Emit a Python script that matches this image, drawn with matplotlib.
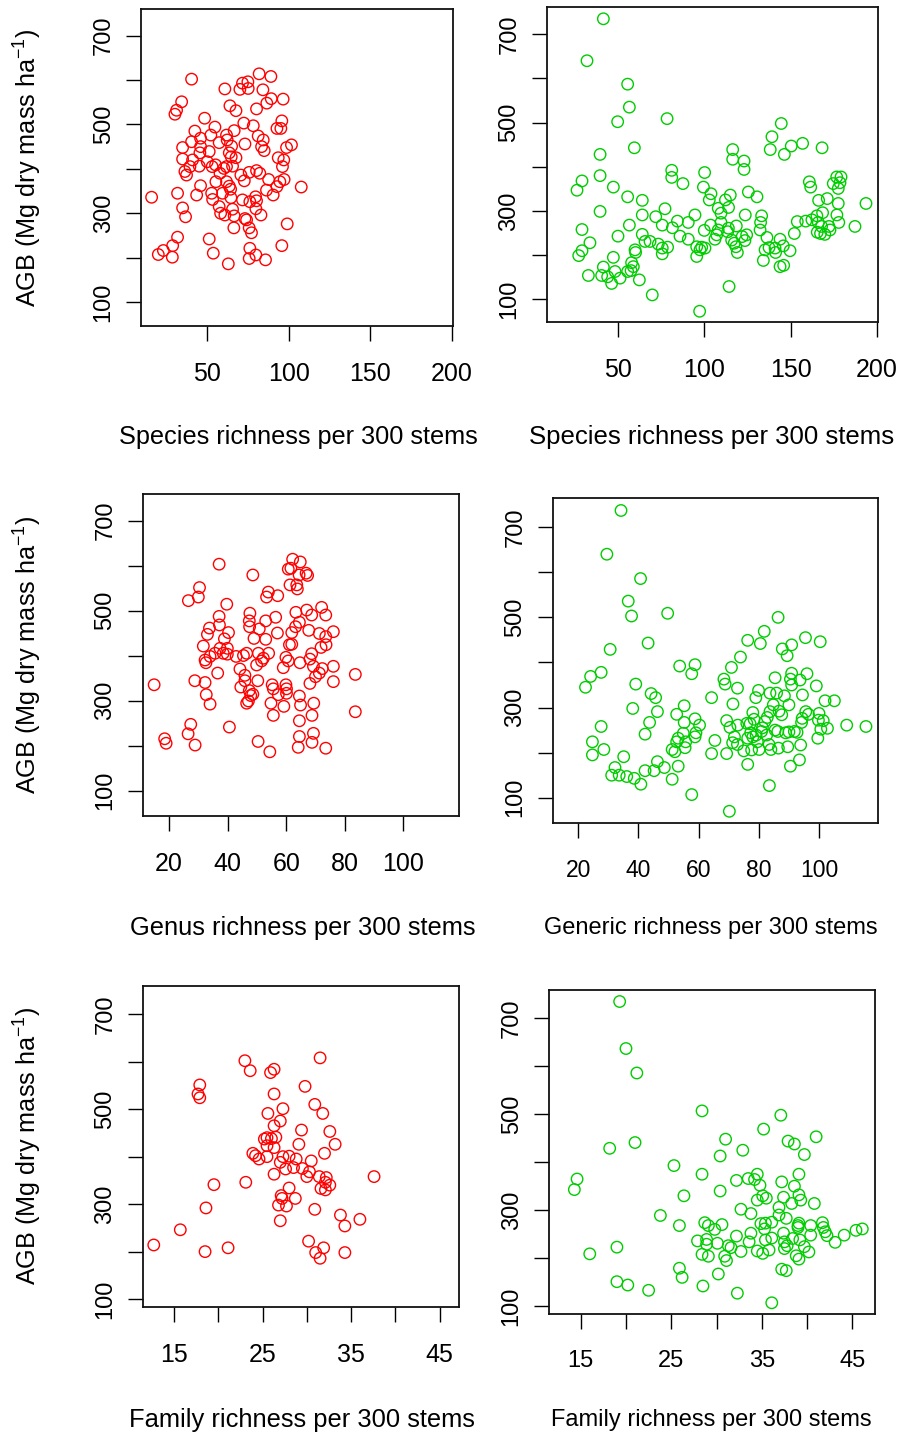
import numpy as np
import matplotlib
matplotlib.use('Agg')
import matplotlib.pyplot as plt

'''
AGB against species / genus / family richness per 300 stems,
red = left column, green = right column (3 x 2 panels)
'''

plt.rcParams['font.family'] = ['Liberation Sans', 'DejaVu Sans']
plt.rcParams['mathtext.fontset'] = 'custom'
plt.rcParams['mathtext.rm'] = 'Liberation Sans'
plt.rcParams['mathtext.it'] = 'Liberation Sans:italic'

#--- data ---
# species richness, red
sp_red_x = [40.4, 81.8, 89.0, 71.6, 74.9, 60.8, 70.0, 75.1, 84.1, 34.3,
            31.2, 30.2, 63.9, 67.6, 80.2, 89.2, 86.5, 96.5, 48.4, 54.7,
            72.4, 78.2, 95.7, 92.7, 95.1, 42.4, 40.4, 34.9, 45.9, 45.9,
            51.2, 52.2, 57.3, 61.8, 62.2, 66.5, 64.9, 73.1, 81.2, 84.3,
            83.3, 84.9, 98.6, 101.6, 34.9, 41.0, 45.5, 39.4, 45.1, 50.0,
            53.0, 55.1, 63.5, 64.7, 67.6, 65.5, 60.2, 61.8, 57.8, 36.3,
            37.3, 93.5, 96.9, 96.1, 70.6, 72.7, 75.7, 80.2, 82.2, 87.6,
            94.5, 97.1, 92.7, 107.6, 55.3, 61.8, 63.5, 64.3, 45.9, 31.8,
            43.5, 15.9, 52.7, 53.3, 59.4, 64.5, 71.6, 76.1, 79.6, 80.2,
            86.3, 90.4, 34.9, 36.7, 57.3, 58.2, 60.8, 65.5, 66.5, 79.8,
            82.9, 73.1, 74.1, 66.3, 75.7, 77.1, 99.0, 31.8, 28.8, 23.1,
            20.0, 28.6, 51.2, 53.7, 62.9, 76.1, 75.7, 79.8, 85.7, 95.7]
sp_red_y = [602, 614, 608, 593, 596, 580, 579, 581, 578, 551,
            532, 523, 542, 531, 535, 558, 548, 557, 514, 494,
            503, 497, 508, 491, 491, 485, 461, 448, 469, 450,
            439, 476, 459, 476, 465, 486, 451, 456, 474, 465,
            450, 441, 448, 454, 422, 420, 436, 405, 406, 416,
            405, 409, 436, 427, 425, 406, 401, 405, 390, 394,
            386, 425, 420, 405, 386, 373, 392, 396, 390, 376,
            371, 376, 360, 359, 371, 371, 361, 354, 362, 345,
            341, 336, 345, 331, 345, 335, 330, 326, 337, 328,
            352, 341, 312, 292, 315, 300, 296, 309, 294, 310,
            296, 288, 285, 267, 267, 256, 276, 246, 227, 216,
            207, 201, 242, 210, 186, 221, 198, 206, 195, 227]

# species richness, green
sp_grn_x = [41.3, 31.8, 55.4, 56.4, 49.6, 78.3, 59.3, 39.4, 39.4, 28.9,
            26.0, 47.1, 55.4, 63.9, 39.4, 63.9, 71.7, 77.1, 81.0, 81.0,
            87.5, 100.1, 99.4, 103.8, 102.8, 116.4, 116.4, 123.0, 123.0, 125.5,
            130.5, 115.0, 112.2, 114.0, 108.0, 109.6, 123.7, 94.5, 84.3, 90.6,
            75.5, 81.4, 103.6, 99.9, 109.6, 113.9, 118.5, 113.5, 133.2, 132.6,
            132.3, 144.6, 139.2, 138.2, 146.4, 150.4, 157.0, 168.3, 160.9, 161.7,
            166.3, 171.3, 176.8, 179.3, 174.8, 178.7, 177.7, 177.7, 176.9, 178.0,
            193.8, 187.4, 168.6, 165.3, 162.4, 158.8, 153.9, 152.2, 166.1, 168.0,
            165.5, 167.4, 169.9, 172.9, 172.3, 28.9, 33.5, 28.9, 27.0, 47.1,
            41.3, 40.3, 32.6, 43.8, 46.1, 48.1, 51.0, 57.7, 57.4, 58.7,
            59.7, 60.0, 55.4, 62.2, 49.8, 56.4, 63.9, 65.5, 68.4, 69.7,
            73.2, 75.5, 75.5, 78.6, 85.8, 90.6, 95.5, 95.5, 97.4, 98.4,
            100.3, 97.2, 114.3, 106.1, 107.1, 108.0, 115.8, 117.3, 119.1, 118.3,
            124.5, 123.5, 121.9, 136.3, 134.2, 135.2, 137.5, 141.0, 141.3, 143.9,
            145.8, 149.7, 143.9, 146.0]
sp_grn_y = [735, 640, 587, 535, 502, 509, 443, 428, 380, 368,
            347, 354, 332, 324, 299, 291, 287, 305, 392, 376,
            362, 387, 354, 339, 325, 439, 417, 413, 394, 343,
            332, 336, 325, 308, 306, 295, 291, 291, 277, 274,
            268, 262, 268, 256, 274, 261, 266, 253, 289, 274,
            257, 498, 468, 439, 428, 447, 453, 443, 366, 354,
            324, 328, 377, 377, 362, 364, 351, 317, 291, 274,
            317, 265, 296, 289, 280, 277, 276, 249, 274, 265,
            252, 249, 247, 257, 265, 258, 228, 210, 199, 195,
            173, 154, 154, 151, 136, 163, 148, 183, 165, 174,
            212, 206, 163, 144, 243, 268, 247, 231, 231, 110,
            225, 216, 203, 218, 243, 236, 219, 197, 212, 218,
            216, 73, 129, 236, 246, 257, 234, 227, 206, 219,
            246, 233, 242, 240, 188, 212, 217, 216, 206, 236,
            221, 210, 174, 177]

# genus richness, red
gen_red_x = [62.2, 64.8, 37.1, 60.7, 61.6, 48.6, 64.4, 66.8, 67.3, 61.3,
             63.6, 63.8, 30.4, 30.0, 26.6, 39.7, 53.9, 53.3, 57.1, 63.3,
             47.6, 67.0, 68.7, 72.1, 73.5, 37.1, 33.8, 37.2, 40.3, 33.1,
             47.4, 47.5, 50.8, 53.0, 56.4, 57.0, 49.0, 53.0, 61.9, 63.2,
             64.5, 67.7, 71.3, 73.5, 76.1, 71.9, 73.6, 61.1, 61.9, 31.7,
             38.9, 37.4, 39.9, 38.5, 39.9, 35.7, 34.0, 32.3, 32.6, 42.9,
             45.4, 46.5, 50.5, 54.0, 52.2, 51.6, 49.9, 59.9, 60.7, 59.0,
             64.7, 68.1, 68.7, 69.3, 72.3, 71.3, 70.0, 76.1, 76.1, 68.1,
             83.6, 83.6, 36.6, 44.2, 45.9, 45.9, 50.3, 44.5, 28.8, 32.3,
             14.9, 32.7, 34.0, 47.4, 48.6, 47.9, 47.1, 46.5, 55.2, 55.6,
             57.3, 54.8, 59.9, 60.1, 60.1, 59.2, 55.6, 64.5, 64.9, 69.4,
             68.8, 64.5, 64.5, 64.1, 69.3, 68.8, 73.5, 40.6, 27.4, 26.5,
             18.5, 19.0, 28.9, 50.4, 54.4]
gen_red_y = [614, 608, 603, 592, 594, 579, 579, 583, 578, 557,
             557, 548, 551, 530, 522, 514, 541, 530, 533, 496,
             494, 501, 490, 507, 490, 487, 461, 468, 451, 447,
             477, 464, 459, 477, 485, 450, 438, 436, 451, 464,
             474, 456, 449, 442, 453, 418, 424, 424, 425, 421,
             437, 416, 416, 405, 403, 405, 398, 390, 384, 398,
             400, 405, 405, 405, 394, 388, 379, 396, 388, 373,
             384, 392, 404, 376, 371, 361, 353, 376, 342, 338,
             358, 275, 361, 370, 356, 344, 344, 330, 344, 340,
             335, 313, 292, 322, 314, 311, 299, 294, 335, 326,
             313, 294, 335, 326, 316, 287, 267, 310, 290, 294,
             267, 255, 220, 196, 227, 207, 194, 241, 247, 226,
             215, 205, 201, 209, 186]

# generic richness, green
gen_grn_x = [34.2, 29.5, 40.7, 36.6, 37.7, 49.7, 30.6, 43.2, 86.4, 81.8,
             76.3, 80.5, 87.8, 90.9, 89.4, 95.5, 100.4, 73.9, 70.9, 53.7,
             58.8, 57.7, 27.6, 24.1, 22.4, 39.1, 44.2, 45.7, 38.1, 46.3,
             43.7, 42.2, 27.6, 24.7, 24.7, 28.5, 35.1, 32.2, 31.1, 33.6,
             36.1, 38.6, 40.8, 42.2, 45.2, 46.3, 48.6, 51.2, 53.2, 57.7,
             52.7, 55.2, 55.2, 58.8, 60.3, 59.1, 58.8, 54.9, 53.2, 52.7,
             55.7, 55.5, 51.2, 52.1, 64.3, 71.4, 68.4, 68.8, 72.9, 65.4,
             64.3, 69.3, 69.3, 70.4, 73.0, 71.9, 71.3, 72.9, 75.0, 76.3,
             76.3, 77.1, 78.4, 78.0, 79.0, 79.9, 77.3, 78.0, 79.1, 77.6,
             80.1, 79.5, 80.9, 82.0, 82.8, 83.7, 85.9, 84.8, 85.4, 88.5,
             90.0, 86.7, 87.6, 83.7, 82.6, 83.4, 84.0, 86.3, 86.5, 89.6,
             88.9, 90.0, 91.8, 92.7, 85.4, 83.5, 90.5, 93.5, 93.9, 94.2,
             94.4, 94.5, 95.6, 96.5, 90.5, 90.9, 90.9, 93.7, 96.0, 99.1,
             102.0, 105.1, 100.0, 99.8, 101.4, 100.6, 102.8, 99.6, 109.2, 115.6,
             70.2, 76.0, 81.2]
gen_grn_y = [737, 640, 586, 536, 503, 509, 429, 443, 500, 469,
             449, 442, 430, 439, 415, 455, 446, 412, 389, 392,
             395, 375, 378, 369, 345, 352, 331, 322, 298, 291,
             267, 241, 258, 224, 195, 207, 191, 167, 150, 150,
             147, 143, 130, 160, 160, 180, 167, 141, 170, 107,
             285, 304, 267, 275, 261, 244, 235, 243, 232, 224,
             224, 211, 207, 202, 322, 308, 363, 352, 343, 227,
             198, 198, 271, 256, 261, 235, 222, 218, 204, 174,
             232, 264, 274, 289, 322, 338, 244, 235, 239, 206,
             207, 224, 247, 269, 278, 332, 332, 306, 366, 326,
             306, 292, 284, 291, 239, 218, 207, 247, 210, 213,
             244, 246, 247, 245, 250, 127, 170, 184, 217, 267,
             276, 328, 291, 285, 363, 376, 350, 361, 375, 348,
             315, 315, 287, 272, 271, 252, 254, 232, 261, 258,
             70, 265, 255]

# family richness, red
fam_red_x = [31.5, 23.0, 23.6, 25.9, 26.3, 17.9, 17.7, 17.9, 29.8, 26.3,
             30.9, 31.8, 27.3, 25.6, 27.0, 26.3, 29.4, 32.6, 29.1, 33.2,
             32.0, 25.2, 25.5, 26.0, 26.5, 25.5, 26.3, 25.5, 23.9, 24.2,
             24.6, 27.3, 28.0, 28.8, 27.0, 27.6, 28.5, 26.3, 29.5, 30.5,
             30.3, 30.0, 31.4, 32.2, 32.1, 32.6, 31.6, 32.1, 37.6, 23.1,
             19.5, 18.6, 28.0, 27.1, 27.2, 28.7, 26.8, 27.7, 27.0, 30.9,
             33.8, 34.3, 36.0, 15.7, 12.7, 18.5, 21.1, 30.2, 31.0, 31.9,
             31.5, 34.3]
fam_red_y = [608, 602, 581, 577, 584, 551, 532, 524, 548, 532,
             510, 491, 501, 491, 475, 465, 456, 453, 426, 426,
             407, 437, 440, 438, 441, 423, 419, 400, 407, 402,
             395, 400, 401, 395, 388, 374, 377, 363, 375, 391,
             368, 358, 358, 356, 346, 340, 333, 330, 358, 346,
             341, 292, 334, 318, 312, 312, 298, 296, 265, 289,
             277, 254, 268, 246, 214, 200, 208, 222, 198, 208,
             186, 198]

# family richness, green
fam_grn_x = [19.3, 20.0, 21.2, 28.4, 37.1, 35.2, 41.0, 37.9, 38.6, 39.7,
             31.0, 32.9, 30.4, 18.2, 21.0, 14.6, 14.3, 25.3, 28.4, 26.4,
             30.4, 32.2, 33.5, 34.2, 34.5, 34.8, 35.1, 35.5, 34.5, 37.2,
             39.1, 38.6, 37.4, 38.3, 39.1, 39.3, 40.8, 36.9, 36.9, 37.7,
             32.7, 33.8, 23.8, 25.9, 28.7, 29.1, 29.8, 30.6, 34.9, 35.4,
             36.1, 35.3, 33.8, 32.2, 27.9, 28.9, 28.9, 30.1, 31.3, 31.6,
             32.7, 33.6, 28.4, 29.1, 30.9, 31.1, 34.5, 35.1, 35.8, 35.4,
             36.1, 37.4, 37.5, 37.5, 37.8, 38.4, 39.0, 39.1, 39.0, 39.2,
             39.7, 38.8, 39.1, 40.2, 40.4, 40.4, 41.7, 41.8, 42.0, 42.2,
             43.1, 44.1, 45.4, 46.1, 37.2, 37.7, 36.1, 32.3, 30.2, 28.5,
             26.2, 25.9, 22.5, 20.2, 19.0, 19.0, 16.0]
fam_grn_y = [735, 637, 586, 507, 498, 469, 453, 444, 438, 416,
             448, 425, 413, 429, 441, 365, 343, 393, 375, 330,
             340, 362, 366, 364, 375, 352, 330, 325, 321, 359,
             375, 350, 327, 314, 332, 321, 314, 306, 290, 283,
             302, 293, 289, 268, 274, 268, 260, 270, 272, 273,
             275, 261, 252, 246, 236, 239, 229, 231, 226, 222,
             214, 234, 208, 204, 204, 195, 215, 210, 217, 238,
             242, 252, 234, 220, 226, 241, 268, 273, 264, 238,
             224, 205, 198, 213, 268, 248, 274, 264, 255, 247,
             233, 248, 258, 261, 177, 174, 107, 127, 167, 142,
             160, 179, 133, 144, 151, 223, 209]

xlabels = ['Species richness per 300 stems', 'Species richness per 300 stems',
           'Genus richness per 300 stems', 'Generic richness per 300 stems',
           'Family richness per 300 stems', 'Family richness per 300 stems']
ylabel = 'AGB (Mg dry mass ha$^{-1}$)'

RED = '#FF0000'
GREEN = '#00CD00'

#--- figure / layout in pixels (902 x 1434) ---
W, H = 902, 1434
fig = plt.figure(figsize=(W/100, H/100), dpi=100)

def add_box(l, r, t, b):
    return fig.add_axes([l/W, 1-b/H, (r-l)/W, (b-t)/H])

# (left, right, top, bottom) of every plot box
boxes = [(141, 453, 9, 326), (546.7, 877.7, 7.3, 322.3),
         (142.7, 459, 494, 815.7), (552.7, 878.3, 498.3, 823),
         (142.7, 459, 985.7, 1306.7), (549, 875, 990, 1314.3)]
xlims = [(9.4, 200.6), (8.4, 200.6), (11.0, 119.0), (11.5, 119.7),
         (11.45, 47.2), (11.5, 47.5)]
ylims = [(46, 760), (48, 761), (44, 759), (44, 764), (84, 760), (83, 759)]
data = [(sp_red_x, sp_red_y, RED), (sp_grn_x, sp_grn_y, GREEN),
        (gen_red_x, gen_red_y, RED), (gen_grn_x, gen_grn_y, GREEN),
        (fam_red_x, fam_red_y, RED), (fam_grn_x, fam_grn_y, GREEN)]

# font sizes differ a bit between the panels (they were separate images)
tick_fs = [18, 18, 18, 16.5, 18, 17]
xlab_fs = [18.2, 18.5, 18.4, 17, 18.4, 17]

yt = list(range(100, 800, 100))
ytl = ['100', '', '300', '', '500', '', '700']

for k in range(6):
    ax = add_box(*boxes[k])
    x, y, c = data[k]
    ax.scatter(x, y, s=68, facecolors='none', edgecolors=c, linewidths=1.0)
    ax.set_xlim(*xlims[k])
    ax.set_ylim(*ylims[k])

    if k < 2:
        ax.set_xticks([50, 100, 150, 200])
        ax.set_xticklabels(['50', '100', '150', '200'])
    elif k < 4:
        ax.set_xticks([20, 40, 60, 80, 100])
        ax.set_xticklabels(['20', '40', '60', '80', '100'])
    else:
        ax.set_xticks([15, 20, 25, 30, 35, 40, 45])
        ax.set_xticklabels(['15', '', '25', '', '35', '', '45'])
    ax.set_yticks(yt)
    ax.set_yticklabels(ytl, rotation=90, va='center')

    ax.tick_params(axis='x', length=11, width=1.0, pad=15, labelsize=tick_fs[k])
    ax.tick_params(axis='y', length=11, width=1.0, pad=8, labelsize=17)
    for s in ax.spines.values():
        s.set_linewidth(1.3)
        s.set_color('#111111')

# axis titles
xlab_pos = [(298, 437), (712, 437), (303, 928), (711, 928), (302, 1420), (711, 1420)]
for k in range(6):
    fig.text(xlab_pos[k][0]/W, 1-xlab_pos[k][1]/H, xlabels[k],
             ha='center', va='center', fontsize=xlab_fs[k])

for yc in [168, 655, 1146]:
    fig.text(28/W, 1-yc/H, ylabel, rotation=90, ha='center', va='center', fontsize=18.2)

plt.savefig('out.png', dpi=100)
